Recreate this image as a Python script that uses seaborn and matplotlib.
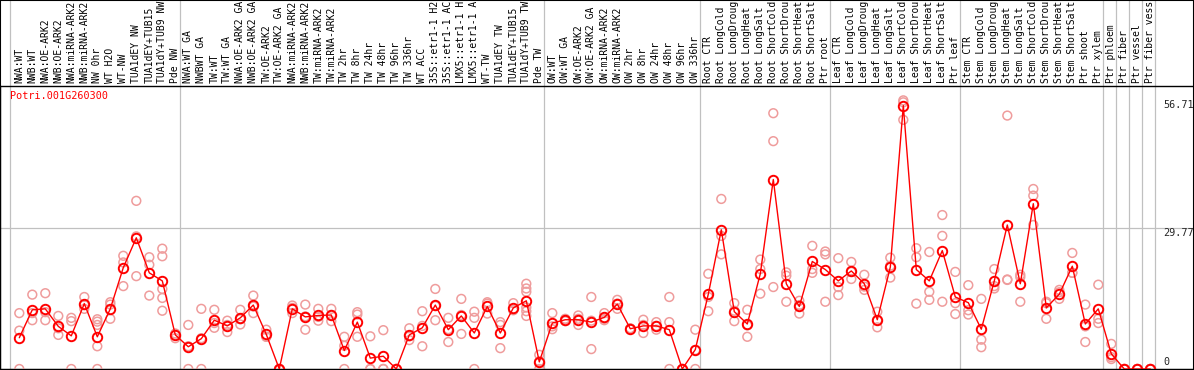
import numpy as np
import pandas as pd
import matplotlib
matplotlib.use('Agg')
import matplotlib.pyplot as plt
import seaborn as sns
from matplotlib.patches import Rectangle

# gene + sample names, as shown (cut to 14 chars like the original)
gene = 'Potri.001G260300'

labels = ['NWA:WT', 'NWB:WT', 'NWA:OE-ARK2', 'NWB:OE-ARK2', 'NWA:miRNA-ARK2', 'NWB:miRNA-ARK2',
          'NW 0hr', 'WT H2O', 'WT-NW', 'TUA1dEY NW', 'TUA1dEY+TUB15', 'TUA1dY+TUB9 NW', 'Pde NW',
          'NWA:WT GA', 'NWBWT GA', 'TW:WT', 'TW:WT GA', 'NWA:OE-ARK2 GA', 'NWB:OE-ARK2 GA',
          'TW:OE-ARK2', 'TW:OE-ARK2 GA', 'NWA:miRNA-ARK2', 'NWB:miRNA-ARK2', 'TW:miRNA-ARK2',
          'TW:miRNA-ARK2', 'TW 2hr', 'TW 8hr', 'TW 24hr', 'TW 48hr', 'TW 96hr', 'TW 336hr',
          'WT ACC', '35S::etr1-1 H2', '35S::etr1-1 AC', 'LMX5::etr1-1 H', 'LMX5::etr1-1 A',
          'WT-TW', 'TUA1dEY TW', 'TUA1dEY+TUB15', 'TUA1dY+TUB9 TW', 'Pde TW',
          'OW:WT', 'OW:WT GA', 'OW:OE-ARK2', 'OW:OE-ARK2 GA', 'OW:miRNA-ARK2', 'OW:miRNA-ARK2',
          'OW 2hr', 'OW 8hr', 'OW 24hr', 'OW 48hr', 'OW 96hr', 'OW 336hr',
          'Root CTR', 'Root LongCold', 'Root LongDroug', 'Root LongHeat', 'Root LongSalt',
          'Root ShortCold', 'Root ShortDrou', 'Root ShortHeat', 'Root ShortSalt', 'Ptr root',
          'Leaf CTR', 'Leaf LongCold', 'Leaf LongDroug', 'Leaf LongHeat', 'Leaf LongSalt',
          'Leaf ShortCold', 'Leaf ShortDrou', 'Leaf ShortHeat', 'Leaf ShortSalt', 'Ptr leaf',
          'Stem CTR', 'Stem LongCold', 'Stem LongDroug', 'Stem LongHeat', 'Stem LongSalt',
          'Stem ShortCold', 'Stem ShortDrou', 'Stem ShortHeat', 'Stem ShortSalt', 'Ptr shoot',
          'Ptr xylem', 'Ptr phloem', 'Ptr fiber', 'Ptr vessel', 'Ptr fiber vess']

# mean expression per sample
means = [6.6, 12.5, 12.7, 9.0, 7.0, 13.8, 6.8, 12.7, 21.4, 27.7, 20.3, 18.6, 7.2,
         4.7, 6.4, 10.3, 9.1, 10.8, 13.5, 7.3, 0, 12.7, 11.0, 11.3, 11.4, 3.9, 9.9,
         2.3, 2.7, 0, 7.2, 8.7, 13.5, 8.3, 11.2, 7.6, 13.2, 7.6, 12.9, 14.4, 1.5,
         9.7, 10.4, 10.4, 9.9, 10.9, 13.7, 8.5, 9.1, 9.1, 8.3, 0, 4.1,
         15.8, 29.4, 12.1, 9.5, 20.1, 40.0, 18.0, 13.2, 22.7, 21.0,
         18.6, 20.7, 18.0, 10.4, 21.5, 55.6, 21.0, 18.6, 25.0, 15.2,
         14.0, 8.4, 18.6, 30.4, 18.0, 34.9, 12.9, 15.8, 21.7, 9.5,
         12.7, 3.2, 0, 0, 0]

# replicate values per sample
reps = [[11.8, 8.1, 0], [15.7, 11.8, 10.3], [16.0, 12.0, 10.3], [11.2, 8.6, 7.2],
        [10.8, 10.1, 0], [15.2, 13.5, 12.7], [10.5, 10.0, 9.3, 4.8, 0], [14.1, 13.6, 10.6],
        [23.9, 22.5, 17.5], [35.5, 28.0, 19.6], [23.6, 22.0, 15.5],
        [25.4, 23.8, 16.9, 15.0, 12.3], [7.5, 7.2, 6.5],
        [9.3, 4.8, 0], [12.7, 6.5, 0], [12.5, 9.7, 8.7], [10.2, 9.3, 7.8], [12.5, 10.5, 9.4],
        [15.5, 13.2, 11.8], [8.3, 6.8, 6.8], [0, 0, 0], [13.4, 12.9, 11.8], [13.6, 11.1, 8.3],
        [12.7, 11.0, 10.2], [12.7, 11.4, 10.1], [6.8, 4.9, 0], [12.0, 11.5, 6.8], [6.9, 0, 0],
        [8.2, 0, 0], [0, 0, 0], [8.6, 6.9, 6.1], [12.2, 9.1, 4.8], [16.9, 13.3, 10.3],
        [10.8, 8.4, 5.7], [14.8, 11.4, 7.4], [12.1, 10.8, 0], [14.1, 13.8, 11.7],
        [9.9, 9.3, 4.4], [13.9, 12.5, 12.4], [18.0, 17.0, 16.3, 13.0, 12.2, 11.2], [3.0, 1.6, 0],
        [11.8, 9.0, 8.4], [10.6, 10.5, 10.1], [11.3, 10.6, 9.3], [15.2, 10.2, 4.2],
        [11.8, 10.6, 10.3], [14.6, 13.8, 12.7], [8.6, 8.5, 8.4], [10.4, 9.3, 7.6],
        [9.9, 9.1, 8.3], [15.2, 9.9, 0], [0, 0, 0], [8.3, 4.0, 0],
        [20.1, 15.2, 12.2], [35.9, 28.1, 24.2], [13.9, 12.3, 10.1], [12.5, 9.2, 6.8],
        [23.1, 21.1, 15.9], [54.0, 48.1, 17.3], [20.4, 19.7, 14.2], [14.4, 13.5, 11.7],
        [26.0, 21.1, 20.3], [24.8, 24.2, 14.2],
        [23.4, 17.3, 15.6], [22.6, 20.5, 19.0], [19.9, 17.4, 16.7], [12.1, 10.3, 8.8],
        [23.5, 21.8, 19.3], [56.71, 56.3, 52.6], [25.5, 23.6, 13.8], [24.7, 16.3, 14.6],
        [32.5, 28.1, 14.2], [20.5, 13.9, 11.6],
        [17.7, 12.4, 11.5], [14.8, 6.2, 4.6], [21.1, 17.5, 17.0], [53.5, 18.9, 18.8],
        [19.9, 19.4, 14.2], [38.0, 36.6, 30.4], [14.2, 13.9, 10.6], [16.7, 16.2, 14.8],
        [24.5, 20.3, 20.3], [13.6, 9.0, 5.7],
        [17.8, 10.6, 9.7], [5.3, 2.5, 2.1], [0, 0, 0], [0, 0, 0], [0, 0, 0]]

# last sample of each group (separator drawn after it)
group_ends = [12, 40, 52, 62, 72, 83, 84, 85, 86, 87]
y_marks = [56.71, 29.77, 0]

mean_df = pd.DataFrame({'pos': np.arange(len(means)), 'value': means})
rep_df = pd.DataFrame([(i, v) for i, vals in enumerate(reps) for v in vals],
                      columns=['pos', 'value'])

sns.set_theme(style='white')
plt.rcParams['font.family'] = ['DejaVu Sans Mono']

W, H = 1194, 370
px = 13.0          # pixels between samples
x0 = 19.3          # pixel x of first sample
top = 86           # pixel y of the line under the labels
scale = 4.737      # pixels per unit
fs = 7.0

fig = plt.figure(figsize=(W / 100, H / 100), dpi=100)
ax = fig.add_axes([0, 1 / H, 1, (H - 1 - top) / H])

# grid
for g in [-0.715] + [e + 0.385 for e in group_ends]:
    ax.axvline(g, ymin=0, ymax=(H - 1) / (H - 1 - top), color='#c0c0c0', lw=0.9,
               clip_on=False, zorder=1)
ax.axhline(y_marks[1], color='#c0c0c0', lw=0.9, zorder=1)

sns.scatterplot(data=rep_df, x='pos', y='value', ax=ax, marker='o', s=40,
                fc='none', ec='#ef9c9c', linewidth=1.1, clip_on=False, zorder=3, legend=False)
sns.lineplot(data=mean_df, x='pos', y='value', ax=ax, color='#ff0000', linewidth=1.0,
             marker='o', markersize=6.8, markerfacecolor='none', markeredgecolor='#ff0000',
             markeredgewidth=1.4, clip_on=False, zorder=4)

ax.set_xlim(-x0 / px, (W - x0) / px)
ax.set_ylim(0, (H - 1 - top) / scale)
ax.set_xticks([])
ax.set_yticks([])
ax.set_xlabel('')
ax.set_ylabel('')
for s in ax.spines.values():
    s.set_color('black')
    s.set_linewidth(1.0)

# sample names, rotated
tr = ax.get_xaxis_transform()
for i, lab in enumerate(labels):
    ax.text(i, 1 + 3 / (H - 1 - top), lab, rotation=90, ha='center', va='bottom',
            fontsize=fs, color='black', transform=tr, clip_on=False)

ax.text(-9.3 / px, 1 - 5 / (H - 1 - top), gene, color='#ff0000', ha='left', va='top',
        fontsize=7.3, transform=tr)

# value marks on the right
ytr = ax.get_yaxis_transform()
for v in y_marks:
    if v == 0:
        ax.text(1163 / W, 4 / scale, '0', ha='left', va='baseline', fontsize=7.3, transform=ytr)
    else:
        ax.text(1163 / W, v, f'{v:.2f}', ha='left', va='top', fontsize=7.3, transform=ytr)

fig.patches.append(Rectangle((0, 0), 1, 1, transform=fig.transFigure, fill=False,
                             edgecolor='black', linewidth=1.5))

fig.savefig('out.png', dpi=100)
